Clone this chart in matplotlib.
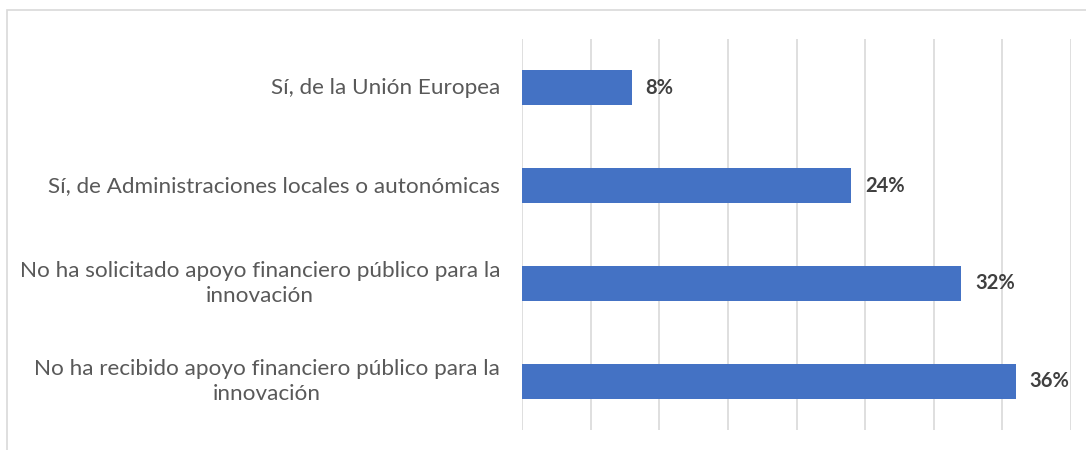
import matplotlib.pyplot as plt
import matplotlib.transforms as mtransforms
from matplotlib.patches import Rectangle

categorias = [
    "No ha recibido apoyo financiero público para la\ninnovación",
    "No ha solicitado apoyo financiero público para la\ninnovación",
    "Sí, de Administraciones locales o autonómicas",
    "Sí, de la Unión Europea",
]
valores = [36, 32, 24, 8]
etiquetas = ["36%", "32%", "24%", "8%"]

plt.rcParams['font.family'] = ['Lato', 'DejaVu Sans']

fig = plt.figure(figsize=(10.86, 4.5), dpi=100)
ax = fig.add_axes([0.4807, 0.0444, 0.5055, 0.8689])

pos = range(len(categorias))
ax.barh(pos, valores, height=0.36, color='#4472C4', zorder=3)
for p, v, t in zip(pos, valores, etiquetas):
    ax.text(v + 1.0, p, t, va='center', ha='left', fontsize=14.5,
            fontweight='bold', color='#404040')

ax.set_xlim(0, 40)
ax.set_ylim(-0.5, 3.5)
ax.set_xticks(range(0, 45, 5))
ax.set_xticklabels([])
ax.set_yticks([])

# etiquetas de categoría (multilínea centrada, como en Excel)
trans = mtransforms.blended_transform_factory(ax.transAxes, ax.transData)
for p, c in zip(pos, categorias):
    ax.text(-0.04, p, c, transform=trans, ha='right', va='center',
            multialignment='center', fontsize=16.2, color='#595959',
            linespacing=1.3)

ax.tick_params(axis='both', length=0)
ax.grid(axis='x', color='#D9D9D9', linewidth=1.2, zorder=0)
for s in ax.spines.values():
    s.set_visible(False)

# marco exterior del gráfico
fig.patches.append(Rectangle((7 / 1086, -0.05), 1.1, 1 - 10 / 450 + 0.05,
                             transform=fig.transFigure, fill=False,
                             edgecolor='#D9D9D9', linewidth=1.2))

fig.savefig('out.png', dpi=100)
